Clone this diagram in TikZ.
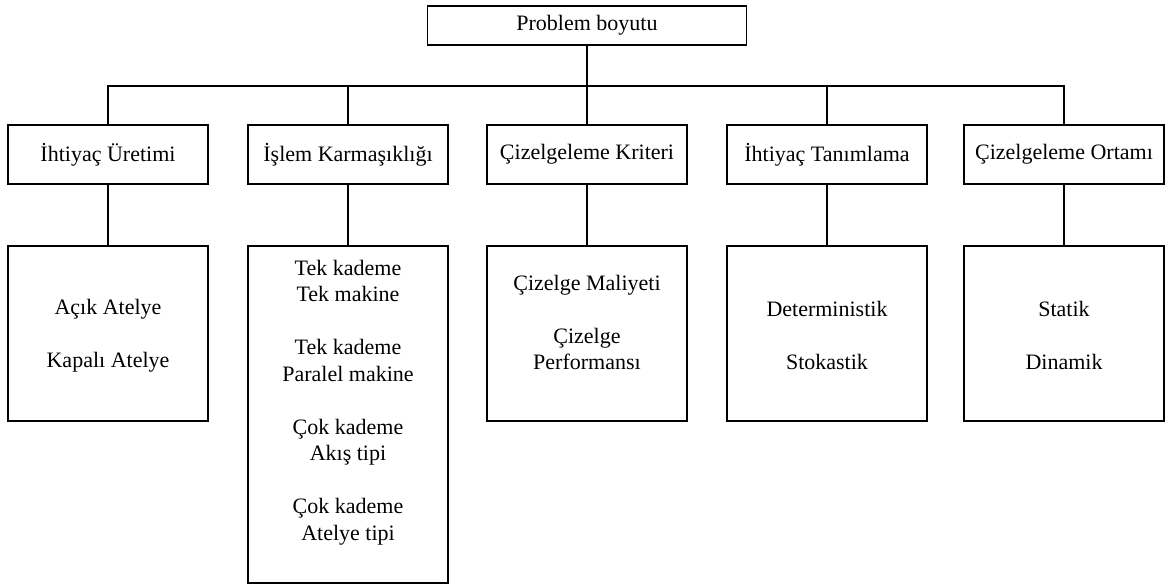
\documentclass[tikz,border=0pt]{standalone}
\usepackage{fontspec}
\setmainfont{Liberation Serif}
\begin{document}
\begin{tikzpicture}[x=1pt,y=-1pt,
  lbl/.style={font=\fontsize{22}{26.5}\selectfont, align=center, inner sep=0pt},
  box/.style={lbl, draw=black, line width=1.3pt, minimum width=200pt},
  head/.style={box, minimum height=59pt},
  leaf/.style={box},
  link/.style={draw=black, line width=1.3pt}]
\useasboundingbox (0,0) rectangle (1167,588);

% root
\node[box, minimum width=319pt, minimum height=39pt] (root) at (587,25.5) {Problem boyutu};
\coordinate (bus) at (587,86);

% second level
\node[head] (a1) at (108,154.5)  {İhtiyaç Üretimi};
\node[head] (a2) at (348,154.5)  {İşlem Karmaşıklığı};
\node[head] (a3) at (587,154.5)  {Çizelgeleme Kriteri};
\node[head] (a4) at (827,154.5)  {İhtiyaç Tanımlama};
\node[head] (a5) at (1064,154.5) {Çizelgeleme Ortamı};

% third level frames
\node[leaf, minimum height=175pt] (b1) at (108,333.5) {};
\node[leaf, minimum height=337pt] (b2) at (348,414.5) {};
\node[leaf, minimum height=175pt] (b3) at (587,333.5) {};
\node[leaf, minimum height=175pt] (b4) at (827,333.5) {};
\node[leaf, minimum height=175pt] (b5) at (1064,333.5) {};

% third level contents
\node[lbl] (t1) at (108,336) {Açık Atelye\\[26.5pt]Kapalı Atelye};
\node[lbl] (t2) at (348,402.5) {Tek kademe\\Tek makine\\[26.5pt]Tek kademe\\Paralel makine\\[26.5pt]Çok kademe\\Akış tipi\\[26.5pt]Çok kademe\\Atelye tipi};
\node[lbl] (t3) at (587,322.5) {Çizelge Maliyeti\\[26.5pt]Çizelge\\Performansı};
\node[lbl] (t4) at (827,335) {Deterministik\\[26.5pt]Stokastik};
\node[lbl] (t5) at (1064,335) {Statik\\[26.5pt]Dinamik};

% connectors
\draw[link] (root.south) -- (bus);
\foreach \i in {1,...,5} {
  \draw[link] (a\i.north) |- (bus);
  \draw[link] (a\i.south) -- (b\i.north);
}
\end{tikzpicture}
\end{document}
